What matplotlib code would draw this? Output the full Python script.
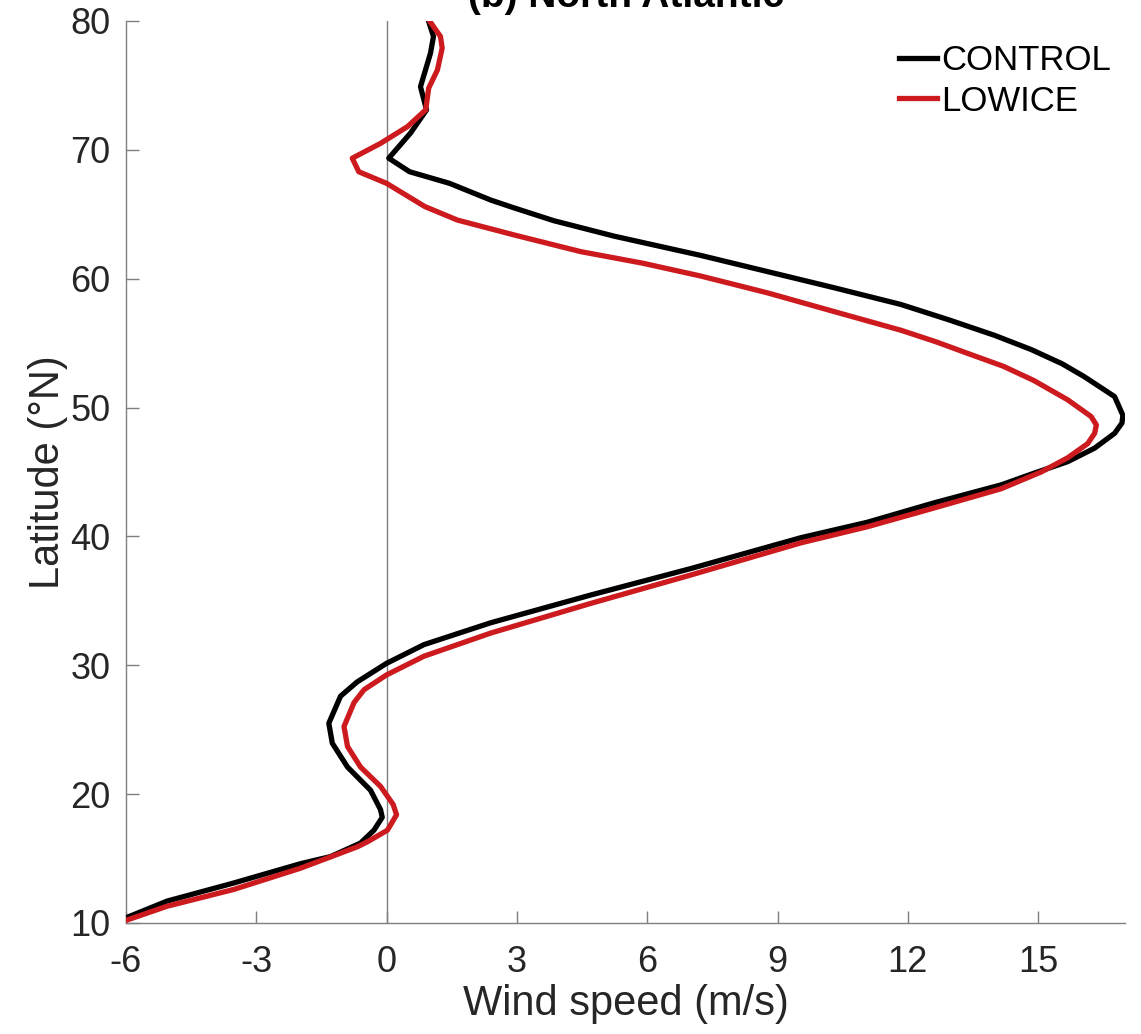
import numpy as np
import matplotlib
matplotlib.use('Agg')
from matplotlib import pyplot as plt

# CONTROL run: latitude (deg N) and zonal wind speed (m/s)
lat_control = [10.4, 11.7, 13.1, 14.6, 15.15, 16.2, 17.2, 18.2, 18.8, 20.3, 22.1,
               23.95, 25.5, 27.6, 28.7, 30.15, 31.6, 33.3, 35.45, 37.5, 39.9,
               41.1, 42.6, 44.0, 44.9, 45.8, 46.85, 48.0, 48.8, 49.4, 50.85,
               52.4, 53.4, 54.5, 55.6, 56.8, 58.0, 59.3, 60.55, 61.8, 63.3, 64.5, 65.5,
               66.1, 67.4, 68.3, 69.35, 71.3, 73.1, 74.9, 76.7, 77.5, 78.8, 79.95]
u_control = [-6.0, -5.05, -3.52, -1.98, -1.29, -0.6, -0.29, -0.1, -0.14, -0.37, -0.9,
             -1.25, -1.33, -1.06, -0.68, 0.0, 0.86, 2.4, 4.7, 7.0, 9.54,
             11.07, 12.6, 14.15, 14.9, 15.68, 16.3, 16.76, 16.93, 16.95, 16.76,
             16.06, 15.55, 14.84, 14.0, 12.95, 11.84, 10.3, 8.77, 7.24, 5.24, 3.85, 2.93,
             2.4, 1.45, 0.53, 0.05, 0.55, 0.92, 0.78, 0.94, 1.01, 1.08, 0.97]

# LOWICE run
lat_lowice = [10.2, 11.3, 12.6, 14.25, 15.9, 16.3, 17.2, 18.4, 19.2, 20.6, 22.1,
              23.7, 25.25, 27.1, 28.1, 29.25, 30.7, 32.5, 34.8, 37.0, 39.5,
              40.75, 42.2, 43.7, 45.0, 46.1, 47.2, 48.0, 48.65, 49.3, 50.6,
              52.1, 53.2, 54.2, 55.1, 56.0, 57.45, 58.9, 60.2, 61.2, 62.1, 63.4, 64.55, 65.6,
              67.4, 68.3, 69.35, 70.5, 71.8, 73.1, 74.8, 76.2, 77.9, 78.8, 79.95]
u_lowice = [-6.0, -5.05, -3.52, -1.98, -0.68, -0.44, 0.02, 0.23, 0.15, -0.14, -0.6,
            -0.9, -0.98, -0.75, -0.52, 0.0, 0.86, 2.4, 4.7, 7.0, 9.54,
            11.07, 12.6, 14.15, 15.07, 15.68, 16.14, 16.3, 16.34, 16.22, 15.68,
            14.9, 14.2, 13.38, 12.65, 11.84, 10.3, 8.77, 7.24, 5.9, 4.47, 2.93, 1.63, 0.88,
            0.0, -0.64, -0.79, -0.14, 0.48, 0.9, 0.97, 1.17, 1.28, 1.24, 1.0]

xticks = [-6, -3, 0, 3, 6, 9, 12, 15]
yticks = [10, 20, 30, 40, 50, 60, 70, 80]

plt.rcParams['font.family'] = ['Liberation Sans', 'DejaVu Sans']
plt.rcParams['axes.unicode_minus'] = False
txt = '#262626'
grey = '#7f7f7f'

fig = plt.figure(figsize=(11.41, 10.34), dpi=100)
ax = fig.add_axes([0.1104, 0.1074, 0.8756, 0.8723])

ax.axvline(0, color=grey, lw=1.0, zorder=1)
ax.plot(u_control, lat_control, color='black', lw=3.8, label='CONTROL', zorder=3)
ax.plot(u_lowice, lat_lowice, color='#cc1a1f', lw=3.8, label='LOWICE', zorder=4)

ax.set_xlim(-6, 17)
ax.set_ylim(10, 80)
ax.set_xticks(xticks)
ax.set_yticks(yticks)
ax.tick_params(direction='in', length=9, width=1.0, color=grey,
               labelsize=26, labelcolor=txt)
ax.tick_params(axis='y', pad=11)
ax.tick_params(axis='x', pad=16)
for s in ['top', 'right']:
    ax.spines[s].set_visible(False)
for s in ['left', 'bottom']:
    ax.spines[s].set_color(grey)
    ax.spines[s].set_linewidth(1.0)

ax.set_xlabel('Wind speed (m/s)', fontsize=30, color=txt, labelpad=3)
ax.set_ylabel('Latitude (°N)', fontsize=30, color=txt, labelpad=2)

fig.text(0.5485, 1 - 7 / 1034, '(b) North Atlantic', fontsize=28,
         fontweight='bold', ha='center', va='baseline', color='black')

leg = ax.legend(loc='upper right', frameon=False, fontsize=25,
                handlelength=1.1, handletextpad=0.12, labelspacing=0.22,
                borderaxespad=0.0, bbox_to_anchor=(1.0, 0.99))

fig.savefig('out.png', dpi=100)
